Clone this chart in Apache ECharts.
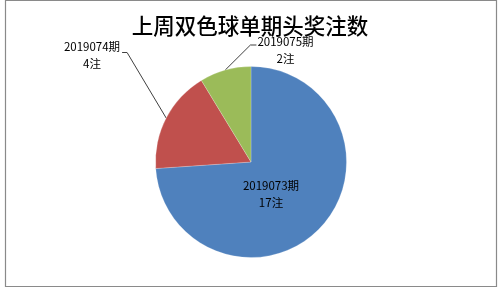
<!DOCTYPE html>
<html>
<head>
<meta charset="utf-8">
<script src="https://cdn.jsdelivr.net/npm/echarts@6/dist/echarts.min.js"></script>
<style>
html,body{margin:0;padding:0;background:#fff;}
#c{width:500px;height:290px;}
</style>
</head>
<body>
<div id="c"></div>
<script>
const titleText = '上周双色球单期头奖注数';
const categories = ['2019073期', '2019074期', '2019075期'];
const values = [17, 4, 2];
const unitSuffix = '注';
const colors = ['#4F81BD', '#C0504D', '#9BBB59'];

// label placement (style only): centre of each label block
const labelPos = [
  { x: 271, y: 194 },
  { x: 92, y: 55.5 },
  { x: 285.5, y: 50 }
];

const chart = echarts.init(document.getElementById('c'), null, { renderer: 'canvas' });

const labelFont = {
  fontFamily: '"Noto Sans CJK SC", "DejaVu Sans", sans-serif',
  fontSize: 11.5,
  lineHeight: 17,
  color: '#000'
};

chart.setOption({
  animation: false,
  backgroundColor: '#fff',
  title: {
    text: titleText,
    left: 'center',
    top: 10,
    textStyle: {
      fontFamily: '"Noto Sans CJK SC", sans-serif',
      fontSize: 21.5,
      fontWeight: 500,
      color: '#000'
    }
  },
  graphic: [{
    type: 'rect',
    silent: true,
    shape: { x: 5.5, y: 0.5, width: 491, height: 286 },
    style: { fill: 'none', stroke: '#8a8a8a', lineWidth: 1.2 }
  }],
  series: [{
    type: 'pie',
    center: ['50.2%', 162],
    radius: [0, 95.5],
    startAngle: 90,
    clockwise: true,
    avoidLabelOverlap: false,
    data: categories.map((name, i) => ({
      name: name,
      value: values[i],
      itemStyle: { color: colors[i] },
      label: { position: i === 0 ? 'inside' : 'outside' },
      labelLine: { show: i !== 0 }
    })),
    itemStyle: { borderColor: 'rgba(255,255,255,0.35)', borderWidth: 0.6 },
    label: Object.assign({
      formatter: p => p.name + '\n' + p.value + unitSuffix,
      align: 'center'
    }, labelFont),
    labelLine: {
      lineStyle: { color: '#404040', width: 1 },
      length: 20,
      length2: 5
    },
    labelLayout: function (params) {
      const i = params.dataIndex;
      const pos = labelPos[i];
      const res = { x: pos.x, y: pos.y, align: 'center', verticalAlign: 'middle' };
      if (i !== 0 && params.labelLinePoints) {
        const start = params.labelLinePoints[0];
        const w = params.labelRect.width;
        const lineY = pos.y - 3;
        if (i === 1) {
          const endX = pos.x + w / 2 + 2;
          res.labelLinePoints = [start, [endX + 5, lineY], [endX, lineY]];
        } else {
          const endX = pos.x - w / 2 - 1;
          res.labelLinePoints = [start, [endX - 6, pos.y - 5], [endX, pos.y - 5]];
        }
      }
      return res;
    }
  }]
});
</script>
</body>
</html>
